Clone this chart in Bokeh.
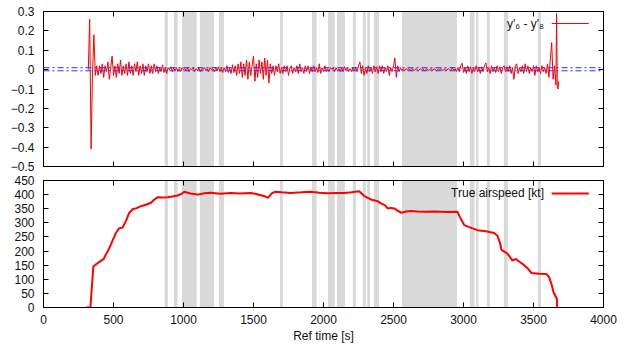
import numpy as np
from bokeh.plotting import figure
from bokeh.layouts import column
from bokeh.models import (Range1d, LinearAxis, BoxAnnotation, Span, Label, FixedTicker, Arrow,
                          CustomJSTickFormatter)
from bokeh.embed import file_html
from bokeh.resources import INLINE

# ---------------- data ----------------
# shaded intervals [s]
shade_start = [865, 932, 989, 1118, 1253, 1689, 1918, 2032, 2096, 2210, 2281, 2312, 2360,
               2560, 3045, 3089, 3167, 3288, 3531]
shade_end = [889, 958, 1094, 1217, 1289, 1710, 1951, 2080, 2153, 2231, 2302, 2332, 2396,
             2953, 3079, 3107, 3188, 3317, 3553]

# y'6 - y'8 residual, sampled every 10 s in segments (segment start time, values)
res_seg_a = [0.0, 0.26, -0.41, -0.02, 0.18, -0.03, 0.02, -0.03, 0.02]  # from 320
res_seg_b = [-0.02, 0.03, -0.04, 0.02, -0.01, 0.04, -0.05, 0.01, 0.07, -0.03,
             0.02, -0.04, 0.03, -0.02, 0.05, -0.03, 0.02, -0.02, 0.03, -0.03,
             0.04, -0.02, 0.02, -0.03, 0.03, -0.01, 0.04, -0.03, 0.02, -0.02,
             0.03, -0.03, 0.02, -0.01, 0.03, -0.02, 0.02, -0.02, 0.03, -0.01]  # from 410
res_seg_c = [0.02, -0.02, 0.01, -0.01, 0.025, -0.015, 0.01, -0.02, 0.01, 0.0,
             0.015, -0.01, 0.01, -0.005, 0.01, -0.01, 0.005, -0.01, 0.01, 0.0,
             0.005, -0.005, 0.01, -0.01, 0.005, 0.0, 0.01, -0.01, 0.005, -0.005,
             0.01, -0.01, 0.005, 0.0, 0.01, -0.005, 0.005, -0.01, 0.01, 0.0,
             0.005, -0.01, 0.01, -0.005, 0.015, -0.01, 0.01, -0.015, 0.01, -0.01,
             0.02, -0.015, 0.01, -0.02, 0.025, -0.015, 0.02]  # from 810
res_seg_d = [-0.03, 0.03, -0.02, 0.04, -0.04, 0.03, -0.03, 0.05, -0.05, 0.04,
             -0.03, 0.02, 0.07, -0.06, 0.03, -0.04, 0.05, -0.02, 0.04, -0.05,
             0.06, -0.03, 0.05, -0.07, 0.03, -0.02]  # from 1380
res_seg_e = [0.02, -0.03, 0.02, -0.01, 0.03, -0.02, 0.01, -0.02, 0.02, -0.01,
             0.02, -0.03, 0.01, 0.02, -0.02, 0.01, -0.01, 0.02, -0.02, 0.03,
             -0.01, 0.01, -0.02, 0.02, -0.01, 0.02, -0.02, 0.01, -0.01, 0.02,
             -0.01, 0.01, -0.015, 0.03, -0.02, 0.01, -0.01, 0.02, -0.01, 0.005,
             -0.01, 0.01, 0.0, 0.01, -0.01, 0.01, -0.005, 0.005, -0.01, 0.01,
             -0.01, 0.015, -0.005, 0.01, -0.01, 0.005, -0.01, 0.01, -0.005, 0.01,
             -0.01, 0.02]  # from 1640
res_seg_f = [0.04, -0.02, 0.02, -0.03, 0.01, -0.02, 0.02, -0.01, 0.01, -0.02,
             0.02, -0.01, 0.015, -0.02, 0.02, -0.01, 0.02, -0.02, 0.01, -0.01,
             0.02, -0.03, 0.01, -0.01, 0.02, 0.06, -0.04, 0.02, -0.01, 0.01]  # from 2260
res_seg_g = [-0.005, 0.005, -0.005, 0.005, 0.0, 0.005, -0.005, 0.005, 0.0, -0.005,
             0.005, 0.0, -0.005, 0.005, 0.0, 0.005, -0.005, 0.0, 0.005, -0.005,
             0.0, 0.005, -0.005, 0.005, 0.0, -0.005, 0.005, 0.0, 0.005, -0.005,
             0.0, 0.005, -0.005, 0.005, 0.0, -0.005, 0.01, -0.005, 0.005, -0.01]  # from 2560
res_seg_h = [0.01, -0.01, 0.02, 0.033, -0.015, 0.01, -0.02, 0.02, -0.01, 0.015,
             -0.02, 0.01, -0.01, 0.02, -0.01, 0.01, -0.02, 0.015, -0.01, 0.02,
             0.035, -0.01, 0.01, -0.02, 0.02, -0.01, 0.01, -0.015, 0.02, -0.01,
             0.015, -0.02, 0.01, 0.02, -0.01, 0.015, -0.01, 0.02, -0.02, 0.01,
             -0.05, 0.02, 0.03, -0.02, 0.01, -0.01, 0.02, -0.02, 0.03, -0.01,
             0.02, -0.02, 0.01, -0.01, 0.02, -0.03, 0.02, -0.01, 0.01, -0.02,
             0.02, -0.01, 0.01, -0.02, 0.03]  # from 2960
res_tail_t = [3610, 3620, 3630, 3640, 3650, 3660, 3665, 3670, 3675, 3680]
res_tail_v = [-0.04, 0.05, 0.14, -0.05, 0.02, -0.08, 0.29, -0.09, -0.10, -0.06]
res_segments = [(320, res_seg_a), (410, res_seg_b), (810, res_seg_c), (1380, res_seg_d),
                (1640, res_seg_e), (2260, res_seg_f), (2560, res_seg_g), (2960, res_seg_h)]

# thresholds (blue dash-dot lines)
thresholds = [0.01, -0.006]

# true airspeed [kt]
tas_t = [303, 335, 356, 380, 410, 430, 446, 465, 482, 500, 518, 541, 565, 589, 613, 637,
         665, 696, 730, 768, 790, 815, 850, 887, 920, 958, 985, 1005, 1050, 1101, 1150,
         1196, 1260, 1339, 1400, 1482, 1520, 1553, 1580, 1605, 1630, 1653, 1700, 1767,
         1840, 1910, 1970, 2029, 2090, 2148, 2200, 2255, 2270, 2291, 2338, 2386, 2410,
         2440, 2458, 2481, 2505, 2530, 2553, 2590, 2624, 2670, 2719, 2800, 2880, 2957,
         2975, 3005, 3050, 3100, 3160, 3219, 3243, 3260, 3272, 3314, 3350, 3374, 3400,
         3433, 3460, 3486, 3540, 3588, 3600, 3612, 3630, 3643, 3667, 3668]
tas_v = [0, 0, 145, 155, 165, 172, 189, 205, 224, 245, 265, 281, 283, 307, 336, 348,
         352, 359, 364, 371, 382, 391, 390, 391, 393, 397, 402, 410, 404, 400, 405,
         407, 403, 406, 404, 406, 402, 398, 394, 389, 404, 410, 408, 406,
         408, 410, 407, 405, 406, 406, 408, 412, 405, 395, 383, 377, 369,
         362, 351, 353, 351, 343, 336, 340, 342, 340, 339, 340, 338, 339,
         320, 292, 283, 274, 270, 264, 254, 230, 204, 191, 166, 172, 162,
         150, 138, 122, 120, 119, 115, 107, 80, 54, 31, 0]

x_ticks = [0, 500, 1000, 1500, 2000, 2500, 3000, 3500, 4000]
y1_ticks = [-0.5, -0.4, -0.3, -0.2, -0.1, 0, 0.1, 0.2, 0.3]
y2_ticks = [0, 50, 100, 150, 200, 250, 300, 350, 400, 450]

res_t = []
res_v = []
for start, vals in res_segments:
    res_t.extend(start + 10 * i for i in range(len(vals)))
    res_v.extend(vals)
res_t.extend(res_tail_t)
res_v.extend(res_tail_v)

FONT = "Liberation Sans"
SHADE = "#d9d9d9"
TXT = "#111111"


def blank_axis(ticks):
    return LinearAxis(ticker=FixedTicker(ticks=ticks), major_tick_in=5, major_tick_out=0,
                      minor_tick_line_color=None, major_label_text_font_size="1px",
                      formatter=CustomJSTickFormatter(code="return ''"),
                      major_label_standoff=0, axis_line_color="black",
                      major_tick_line_color="black")


def style_axis(ax, ticks, standoff):
    ax.ticker = FixedTicker(ticks=ticks)
    ax.major_tick_in = 5
    ax.major_tick_out = 0
    ax.minor_tick_line_color = None
    ax.axis_line_color = "black"
    ax.major_tick_line_color = "black"
    ax.major_label_text_font = FONT
    ax.major_label_text_font_size = "12px"
    ax.major_label_text_color = TXT
    ax.major_label_standoff = standoff


def make_fig(height, yr, yt, show_x, top_b, bot_b):
    p = figure(width=642, height=height, x_range=xr, y_range=yr,
               output_backend="svg", toolbar_location=None, x_axis_location=None,
               y_axis_location=None,
               min_border_left=43, min_border_right=39, min_border_top=top_b,
               min_border_bottom=bot_b)
    p.grid.visible = False
    p.outline_line_color = "black"
    p.outline_line_width = 1
    if show_x:
        bx = LinearAxis()
        style_axis(bx, x_ticks, 7)
    else:
        bx = blank_axis(x_ticks)
    p.add_layout(bx, "below")
    ly = LinearAxis()
    style_axis(ly, yt, 9)
    p.add_layout(ly, "left")
    p.add_layout(blank_axis(yt), "right")
    p.add_layout(blank_axis(x_ticks), "above")
    for a, b in zip(shade_start, shade_end):
        p.add_layout(BoxAnnotation(left=a, right=b, fill_color=SHADE, fill_alpha=1.0,
                                   line_color=None, level="underlay"))
    return p, bx


xr = Range1d(0, 4000)

p1, _ = make_fig(173, Range1d(-0.5, 0.3), y1_ticks, False, 11, 7)
for th in thresholds:
    p1.add_layout(Span(location=th, dimension="width", line_color="#3030ff",
                       line_dash="6 3 2 3", line_width=1))
p1.line(res_t, res_v, line_color="#ff0000", line_width=1)
# key: text followed by sample line (gnuplot style)
p1.add_layout(Label(x=3575, y=0.238, text="y'\u2086 - y'\u2088", text_align="right",
                    text_baseline="middle", text_font=FONT, text_font_size="12px",
                    text_color=TXT))
p1.add_layout(Arrow(end=None, x_start=3630, y_start=0.238, x_end=3895, y_end=0.238,
                    line_color="#ff0000", line_width=1))

p2, bx2 = make_fig(176, Range1d(0, 450), y2_ticks, True, 7, 42)
p2.line(tas_t, tas_v, line_color="#ff0000", line_width=2)
bx2.axis_label = "Ref time [s]"
bx2.axis_label_text_font = FONT
bx2.axis_label_text_font_size = "12px"
bx2.axis_label_text_font_style = "normal"
bx2.axis_label_text_color = TXT
bx2.axis_label_standoff = 2
p2.add_layout(Label(x=3575, y=404, text="True airspeed [kt]", text_align="right",
                    text_baseline="middle", text_font=FONT, text_font_size="12px",
                    text_color=TXT))
p2.add_layout(Arrow(end=None, x_start=3630, y_start=404, x_end=3895, y_end=404,
                    line_color="#ff0000", line_width=2))

layout = column(p1, p2, spacing=0)
open("out.html", "w").write(file_html(layout, INLINE))
